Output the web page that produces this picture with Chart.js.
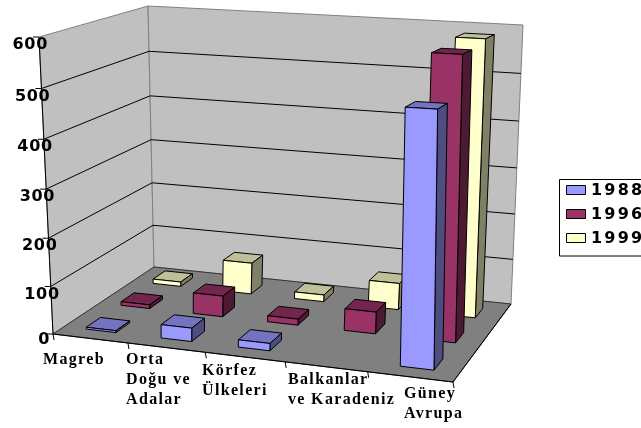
<!DOCTYPE html>
<html><head><meta charset="utf-8">
<style>html,body{margin:0;padding:0;background:#fff;overflow:hidden}canvas{display:block}</style>
<script src="https://cdn.jsdelivr.net/npm/chart.js@4"></script>
</head><body><canvas id="c" width="641" height="428"></canvas>
<script>
const categories = ['Magreb','Orta Doğu ve Adalar','Körfez Ülkeleri','Balkanlar ve Karadeniz','Güney Avrupa'];
const categoryLines = [['Magreb'],['Orta','Doğu ve','Adalar'],['Körfez','Ülkeleri'],['Balkanlar','ve Karadeniz'],['Güney','Avrupa']];
const seriesNames = ['1988','1996','1999'];
const values1988 = [4,28,15,null,497];
const values1996 = [8,45,13,46,575];
const values1999 = [10,70,15,58,584];
const colors = ['#9999FF','#993366','#FFFFCC'];

// Projection calibration: floor and top planes of the 3D box
const floorQuad=[[53,334],[453,382],[511,304],[154,267]];
const topQuad=[[39,37],[455,57],[523,25],[148,6]];
const HEIGHT_PERSPECTIVE=1.05;
function quadMap(q){
  const [[x0,y0],[x1,y1],[x2,y2],[x3,y3]]=q;
  const dx1=x1-x2,dx2=x3-x2,sx=x0-x1+x2-x3,dy1=y1-y2,dy2=y3-y2,sy=y0-y1+y2-y3;
  const den=dx1*dy2-dx2*dy1,g=(sx*dy2-dx2*sy)/den,h=(dx1*sy-sx*dy1)/den;
  const a=x1-x0+g*x1,b=x3-x0+h*x3,d=y1-y0+g*y1,e=y3-y0+h*y3;
  return (X,Z)=>{const w=g*X+h*Z+1;return [(a*X+b*Z+x0)/w,(d*X+e*Z+y0)/w];};
}
const floorMap=quadMap(floorQuad),topMap=quadMap(topQuad);
function project(X,Y,Z){
  const f=floorMap(X,Z),t=topMap(X,Z),k=Y/(Y+HEIGHT_PERSPECTIVE*(1-Y));
  return [f[0]+(t[0]-f[0])*k,f[1]+(t[1]-f[1])*k];
}
const BAR_FRACTION=0.4;
const labelX=[43,126,202,288,404], labelY=[360,360,371,380,394];

function shade(hex,k){const n=parseInt(hex.slice(1),16);return `rgb(${Math.round((n>>16&255)*k)},${Math.round((n>>8&255)*k)},${Math.round((n&255)*k)})`;}
function poly(ctx,pts,fill,stroke,lw){ctx.beginPath();pts.forEach((p,i)=>i?ctx.lineTo(p[0],p[1]):ctx.moveTo(p[0],p[1]));ctx.closePath();if(fill){ctx.fillStyle=fill;ctx.fill();}if(stroke){ctx.strokeStyle=stroke;ctx.lineWidth=lw||1;ctx.stroke();}}
function line(ctx,a,b,c,lw){ctx.beginPath();ctx.moveTo(a[0],a[1]);ctx.lineTo(b[0],b[1]);ctx.strokeStyle=c;ctx.lineWidth=lw||1;ctx.stroke();}

const box3d={id:'box3d',beforeDatasetsDraw(chart){
  const ctx=chart.ctx,sx=chart.scales.x,sy=chart.scales.y,sz=chart.scales.z;
  const nx=i=>(sx.getPixelForValue(i)-sx.left)/sx.width;
  const nz=i=>(sz.getPixelForValue(i)-sz.left)/sz.width;
  const ny=v=>(sy.bottom-sy.getPixelForValue(v))/sy.height;
  const halfX=BAR_FRACTION/categories.length/2, halfZ=BAR_FRACTION/seriesNames.length/2;
  ctx.save();
  poly(ctx,[project(0,0,0),project(0,1,0),project(0,1,1),project(0,0,1)],'#C0C0C0','#808080');
  poly(ctx,[project(0,0,1),project(0,1,1),project(1,1,1),project(1,0,1)],'#C0C0C0','#808080');
  sy.ticks.forEach(t=>{const y=ny(t.value);if(y>0&&y<1){
    line(ctx,project(0,y,0),project(0,y,1),'#000');line(ctx,project(0,y,1),project(1,y,1),'#000');}});
  poly(ctx,[project(0,0,0),project(1,0,0),project(1,0,1),project(0,0,1)],'#808080','#333');
  for(let k=seriesNames.length-1;k>=0;k--){
    const col=chart.data.datasets[k].backgroundColor;
    chart.data.datasets[k].data.forEach((v,i)=>{
      if(v===null)return;
      const x0=nx(i)-halfX,x1=nx(i)+halfX,z0=nz(k)-halfZ,z1=nz(k)+halfZ,y0=0,y1=ny(v);
      const p=project;
      poly(ctx,[p(x0,y1,z0),p(x1,y1,z0),p(x1,y1,z1),p(x0,y1,z1)],shade(col,.75),'#000');
      poly(ctx,[p(x1,y0,z0),p(x1,y0,z1),p(x1,y1,z1),p(x1,y1,z0)],shade(col,.5),'#000');
      poly(ctx,[p(x0,y0,z0),p(x1,y0,z0),p(x1,y1,z0),p(x0,y1,z0)],col,'#000');
    });
  }
  line(ctx,project(0,0,0),project(0,1,0),'#000');
  line(ctx,project(0,0,0),project(1,0,0),'#000');
  line(ctx,project(1,0,0),project(1,0,1),'#000');
  categories.concat(['']).forEach((c,i)=>{const a=project(i/categories.length,0,0);line(ctx,a,[a[0]+1,a[1]+6],'#000');});
  ctx.font='bold 16px "DejaVu Sans"';ctx.letterSpacing='0.7px';ctx.fillStyle='#000';ctx.textBaseline='middle';ctx.textAlign='right';
  sy.ticks.forEach(t=>{const a=project(0,ny(t.value),0);
    line(ctx,a,[a[0]-6,a[1]],'#000');
    ctx.fillText(String(t.value),t.value===0?50:a[0]+9,a[1]+(t.value===0?6:8));});
  ctx.font='bold 16px "Liberation Serif"';ctx.letterSpacing='1.34px';ctx.textAlign='left';
  categoryLines.forEach((ls,i)=>ls.forEach((l,j)=>ctx.fillText(l,labelX[i],labelY[i]+j*20)));
  poly(ctx,[[559.5,179.5],[660,179.5],[660,256],[559.5,256]],'#fff','#000');
  ctx.font='bold 16px "DejaVu Sans"';ctx.letterSpacing='2.2px';
  seriesNames.forEach((n,k)=>{const y=190+k*24;
    poly(ctx,[[566.5,y-4.5],[585.5,y-4.5],[585.5,y+4.5],[566.5,y+4.5]],chart.data.datasets[k].backgroundColor,'#000');
    ctx.fillStyle='#000';ctx.fillText(n,591,y+1);});
  ctx.restore();
  return false;
}};
new Chart(document.getElementById('c'),{
  type:'bar',
  data:{labels:categories,datasets:[
    {label:seriesNames[0],data:values1988,backgroundColor:colors[0]},
    {label:seriesNames[1],data:values1996,backgroundColor:colors[1]},
    {label:seriesNames[2],data:values1999,backgroundColor:colors[2]}]},
  options:{responsive:false,animation:false,
    plugins:{legend:{display:false},tooltip:{enabled:false}},
    scales:{
      x:{display:false,offset:true},
      z:{type:'category',axis:'x',labels:seriesNames,display:false,offset:true},
      y:{display:false,min:0,max:600,ticks:{stepSize:100}}
    }},
  plugins:[box3d]});
</script></body></html>
